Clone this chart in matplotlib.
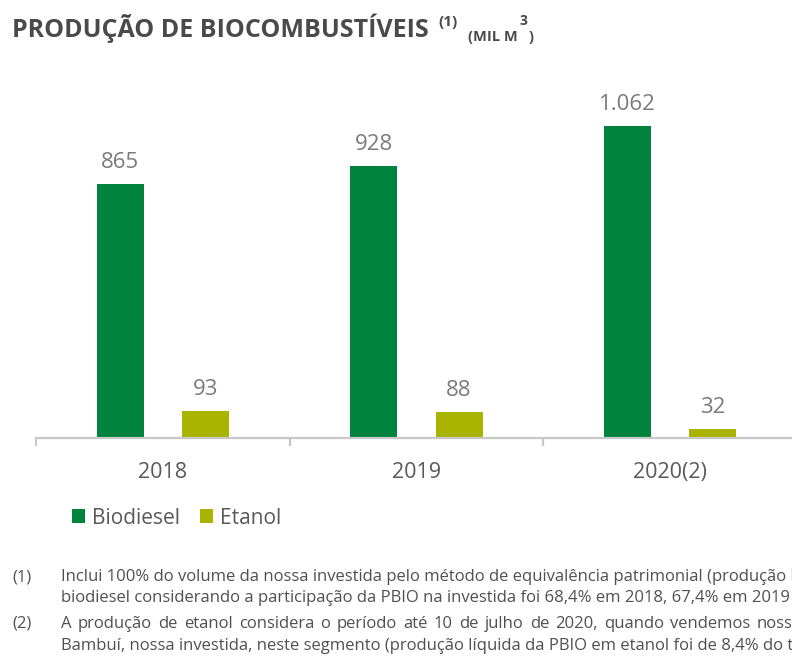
import matplotlib
matplotlib.use("Agg")
import matplotlib.pyplot as plt
import numpy as np

categories = ["2018", "2019", "2020(2)"]
biodiesel = [865, 928, 1062]
etanol = [93, 88, 32]
biodiesel_labels = ["865", "928", "1.062"]
etanol_labels = ["93", "88", "32"]
series_names = ["Biodiesel", "Etanol"]

W, H = 792, 664
FONT = "Open Sans"
plt.rcParams['font.family'] = [FONT, 'DejaVu Sans']

fig = plt.figure(figsize=(W / 100, H / 100), dpi=100)

def fx(px):
    return px / W

def fy(py):
    return 1 - py / H

# axes: baseline y=438 px, left edge x=36 px, group spacing ~253.5 px
ax_left, ax_right = 36, 797
base, top = 438, 86
ax = fig.add_axes([fx(ax_left), fy(base), (ax_right - ax_left) / W, (base - top) / H])

c_bio = "#00843D"
c_eta = "#A8B400"
x = np.arange(len(categories))
bw = 0.186
off = 0.168
b1 = ax.bar(x - off, biodiesel, bw, color=c_bio, label=series_names[0])
b2 = ax.bar(x + off, etanol, bw, color=c_eta, label=series_names[1])

ax.set_xlim(-0.5, len(categories) - 0.5)
ax.set_ylim(0, 1200)

for bars, labs in ((b1, biodiesel_labels), (b2, etanol_labels)):
    for rect, lab in zip(bars, labs):
        ax.annotate(lab, (rect.get_x() + rect.get_width() / 2, rect.get_height()),
                    xytext=(0, 8), textcoords="offset points", ha="center", va="bottom",
                    fontsize=16, color="#7a7a7a")

for s in ["top", "right", "left"]:
    ax.spines[s].set_visible(False)
ax.spines["bottom"].set_color("#c8c8c8")
ax.spines["bottom"].set_linewidth(1.6)
ax.set_yticks([])
ax.set_xticks(x)
ax.set_xticklabels(categories, fontsize=15.5, color="#595959")
ax.tick_params(axis="x", length=0, pad=17)
ax.set_xticks(np.arange(-0.5, len(categories)), minor=True)
ax.tick_params(axis="x", which="minor", length=6, width=1.6, color="#c8c8c8")

# legend
leg = fig.legend(handles=[b1, b2], labels=series_names, loc="center left",
                 bbox_to_anchor=(fx(53), fy(518)), ncol=2, frameon=False,
                 fontsize=15, handlelength=0.62, handleheight=0.62, handletextpad=0.33,
                 columnspacing=1.0, labelcolor="#595959")

# title
tc = "#4a4a4a"
fig.text(fx(12), fy(28), "PRODUÇÃO DE BIOCOMBUSTÍVEIS", fontsize=18, fontweight="bold",
         color=tc, ha="left", va="center")
fig.text(fx(438), fy(22), "(1)", fontsize=11, fontweight="bold", color=tc,
         ha="left", va="center")
fig.text(fx(468), fy(37), "(MIL M", fontsize=10.5, fontweight="bold", color=tc,
         ha="left", va="center")
fig.text(fx(519), fy(21), "3", fontsize=10, fontweight="bold", color=tc,
         ha="left", va="center")
fig.text(fx(529), fy(37), ")", fontsize=10.5, fontweight="bold", color=tc,
         ha="left", va="center")

# footnotes
fn_color = "#505050"
fs = 12
renderer = fig.canvas.get_renderer()

def justified(line, y, x0, anchor_word_idx, anchor_x):
    words = line.split(" ")
    widths = []
    for w in words:
        t = fig.text(0, 0, w, fontsize=fs)
        widths.append(t.get_window_extent(renderer).width)
        t.remove()
    gap = (anchor_x - x0 - sum(widths[:anchor_word_idx])) / anchor_word_idx
    xx = x0
    for w, wd in zip(words, widths):
        fig.text(fx(xx), fy(y), w, fontsize=fs, color=fn_color, ha="left", va="center")
        xx += wd + gap

notes = [
    ("(1)", [577, 598], ["Inclui 100% do volume da nossa investida pelo método de equivalência patrimonial (produção líquida de",
                         "biodiesel considerando a participação da PBIO na investida foi 68,4% em 2018, 67,4% em 2019 e 2020)."]),
    ("(2)", [624, 646], ["A produção de etanol considera o período até 10 de julho de 2020, quando vendemos nossa participação na",
                         "Bambuí, nossa investida, neste segmento (produção líquida da PBIO em etanol foi de 8,4% do total)."]),
]
for k, (num, ys, lines) in enumerate(notes):
    fig.text(fx(12), fy(ys[0]), num, fontsize=fs, color=fn_color, ha="left", va="center")
    for j, (yy, ln) in enumerate(zip(ys, lines)):
        if k == 1 and j == 0:
            justified(ln, yy, 61, 15, 757)
        else:
            fig.text(fx(61), fy(yy), ln, fontsize=fs, color=fn_color,
                     ha="left", va="center")

fig.savefig("out.png", dpi=100)
